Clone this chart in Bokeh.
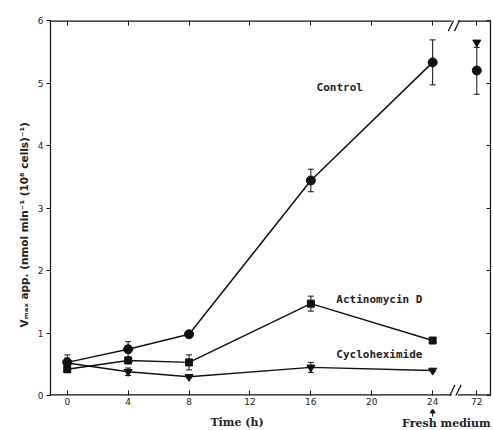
import math
from bokeh.plotting import figure
from bokeh.layouts import column
from bokeh.models import (Range1d, FixedTicker, LinearAxis, Whisker, TeeHead, ColumnDataSource, Title)
from bokeh.core.properties import value
from bokeh.embed import file_html
from bokeh.resources import INLINE

# ---------------- data ----------------
times = [0, 4, 8, 16, 24]
late_time = 72            # plotted after the axis break

control = [0.53, 0.74, 0.98, 3.44, 5.33]
control_lo = [0.41, 0.62, 0.95, 3.26, 4.97]
control_hi = [0.65, 0.86, 1.01, 3.62, 5.69]
control_late = 5.20
control_late_lo = 4.82
control_late_hi = 5.57

actino = [0.42, 0.56, 0.53, 1.47, 0.88]
actino_lo = [0.37, 0.53, 0.41, 1.35, 0.86]
actino_hi = [0.47, 0.59, 0.65, 1.59, 0.90]

cyclo = [0.52, 0.38, 0.30, 0.45, 0.40]
cyclo_lo = [0.44, 0.32, 0.28, 0.37, 0.38]
cyclo_hi = [0.60, 0.44, 0.32, 0.53, 0.42]
cyclo_late = 5.65

x_ticks = [0, 4, 8, 12, 16, 20, 24]
y_ticks = [0, 1, 2, 3, 4, 5, 6]

# layout: display position of the 72 h point beyond the break
X_START, X_END = -1.1, 27.8
BREAK_POS = 25.45
LATE_POS = 26.9


def xpos(t):
    return t if t <= 24 else LATE_POS


BLACK = "#111111"
TXT = "#222222"
p = figure(width=493, height=409, output_backend="svg", toolbar_location=None,
           x_range=Range1d(X_START, X_END), y_range=Range1d(0, 6),
           min_border_left=50, min_border_right=3, min_border_top=20, min_border_bottom=14,
           background_fill_color="white", border_fill_color="white")
p.grid.visible = False
p.outline_line_color = None

all_xticks = x_ticks + [LATE_POS]
p.xaxis.ticker = FixedTicker(ticks=all_xticks)
p.xaxis.major_label_overrides = {LATE_POS: str(late_time)}
p.yaxis.ticker = FixedTicker(ticks=y_ticks)
for ax in (p.xaxis[0], p.yaxis[0]):
    ax.axis_line_color = BLACK
    ax.axis_line_width = 1.2
    ax.major_tick_line_color = BLACK
    ax.minor_tick_line_color = None
    ax.major_label_text_font = "DejaVu Sans"
    ax.major_label_text_font_size = "9px"
    ax.major_label_text_color = TXT
p.xaxis.axis_line_color = None        # drawn below, with the break
p.xaxis.major_tick_in = 5
p.xaxis.major_tick_out = 0
p.xaxis.major_label_standoff = 2
p.yaxis.major_tick_in = 0
p.yaxis.major_tick_out = 4
p.yaxis.major_label_standoff = 3

top_ax = LinearAxis(ticker=FixedTicker(ticks=all_xticks),
                    major_label_overrides={t: "" for t in all_xticks},
                    major_tick_in=5, major_tick_out=0, minor_tick_line_color=None,
                    axis_line_color=None, major_tick_line_color=BLACK)
p.add_layout(top_ax, "above")
right_ax = LinearAxis(ticker=FixedTicker(ticks=y_ticks),
                      major_label_overrides={t: "" for t in y_ticks},
                      major_tick_in=4, major_tick_out=0, minor_tick_line_color=None,
                      axis_line_color=BLACK, axis_line_width=1.2, major_tick_line_color=BLACK)
p.add_layout(right_ax, "right")

# bottom / top frame lines with the axis break (half clipped by the frame)
for yb in (0, 6):
    p.segment(x0=[X_START, BREAK_POS + 0.2], y0=[yb, yb], x1=[BREAK_POS - 0.2, X_END], y1=[yb, yb],
              line_color=BLACK, line_width=2.4)
    lo, hi = (yb - 0.05, yb + 0.17) if yb == 0 else (yb - 0.17, yb + 0.05)
    for dx in (-0.2, 0.2):
        p.segment(x0=[BREAK_POS + dx - 0.22], y0=[lo], x1=[BREAK_POS + dx + 0.22], y1=[hi],
                  line_color=BLACK, line_width=1.2)

# series lines
for ys in (control, actino, cyclo):
    p.line(times, ys, line_color=BLACK, line_width=1.5)


def whiskers(xs, lo, hi):
    src = ColumnDataSource(dict(x=xs, lo=lo, hi=hi))
    w = Whisker(source=src, base="x", lower="lo", upper="hi", line_color=BLACK, line_width=1,
                upper_head=TeeHead(size=6, line_color=BLACK, line_width=1),
                lower_head=TeeHead(size=6, line_color=BLACK, line_width=1))
    p.add_layout(w)


whiskers(times + [xpos(late_time)], control_lo + [control_late_lo], control_hi + [control_late_hi])
whiskers(times, actino_lo, actino_hi)
whiskers(times, cyclo_lo, cyclo_hi)

# markers
p.scatter(times + [xpos(late_time)], control + [control_late], marker="circle", size=9,
          fill_color=BLACK, line_color=BLACK)
p.scatter(times, actino, marker="square", size=7, fill_color=BLACK, line_color=BLACK)
p.scatter(times + [xpos(late_time)], cyclo + [cyclo_late], marker="inverted_triangle", size=8,
          fill_color=BLACK, line_color=BLACK)

# series labels
lab_font = value("DejaVu Sans Mono")
for lx, ly, lt in ((17.9, 4.93, "Control"), (20.5, 1.54, "Actinomycin D"),
                   (20.5, 0.66, "Cycloheximide")):
    p.text(x=[lx], y=[ly], text=[lt], text_font=lab_font, text_font_style="bold",
           text_font_size="11px", text_align="center", text_baseline="middle", text_color=TXT)

# y axis title (starts near the bottom, like the reference)
p.add_layout(Title(text="V\u2098\u2090\u2093 app. (nmol min\u207b\u00b9 (10\u2078 cells)\u207b\u00b9)",
                   align="left", offset=68, standoff=10,
                   text_font="DejaVu Sans", text_font_style="bold", text_font_size="10.5px",
                   text_color=TXT), "left")

# strip below the plot for the x title and the "Fresh medium" note
p2 = figure(width=493, height=21, output_backend="svg", toolbar_location=None,
            x_range=p.x_range, y_range=Range1d(0, 21),
            min_border_left=50, min_border_right=3, min_border_top=0, min_border_bottom=0,
            x_axis_location=None, y_axis_location=None,
            background_fill_color="white", border_fill_color="white")
p2.grid.visible = False
p2.outline_line_color = None
p2.text(x=[11.15], y=[8], text=["Time (h)"], text_font=value("DejaVu Serif"), text_font_style="bold",
        text_font_size="11px", text_align="center", text_baseline="middle", text_color=TXT)
p2.text(x=[24.9], y=[7], text=["Fresh medium"], text_font=value("DejaVu Serif"), text_font_style="bold",
        text_font_size="11px", text_align="center", text_baseline="middle", text_color=TXT)
p2.segment(x0=[24], y0=[19], x1=[24], y1=[14], line_color=BLACK, line_width=1)
p2.scatter(x=[24], y=[19], marker="triangle", size=5, fill_color=BLACK, line_color=BLACK)

open("out.html", "w").write(file_html(column(p, p2, spacing=0), INLINE))
